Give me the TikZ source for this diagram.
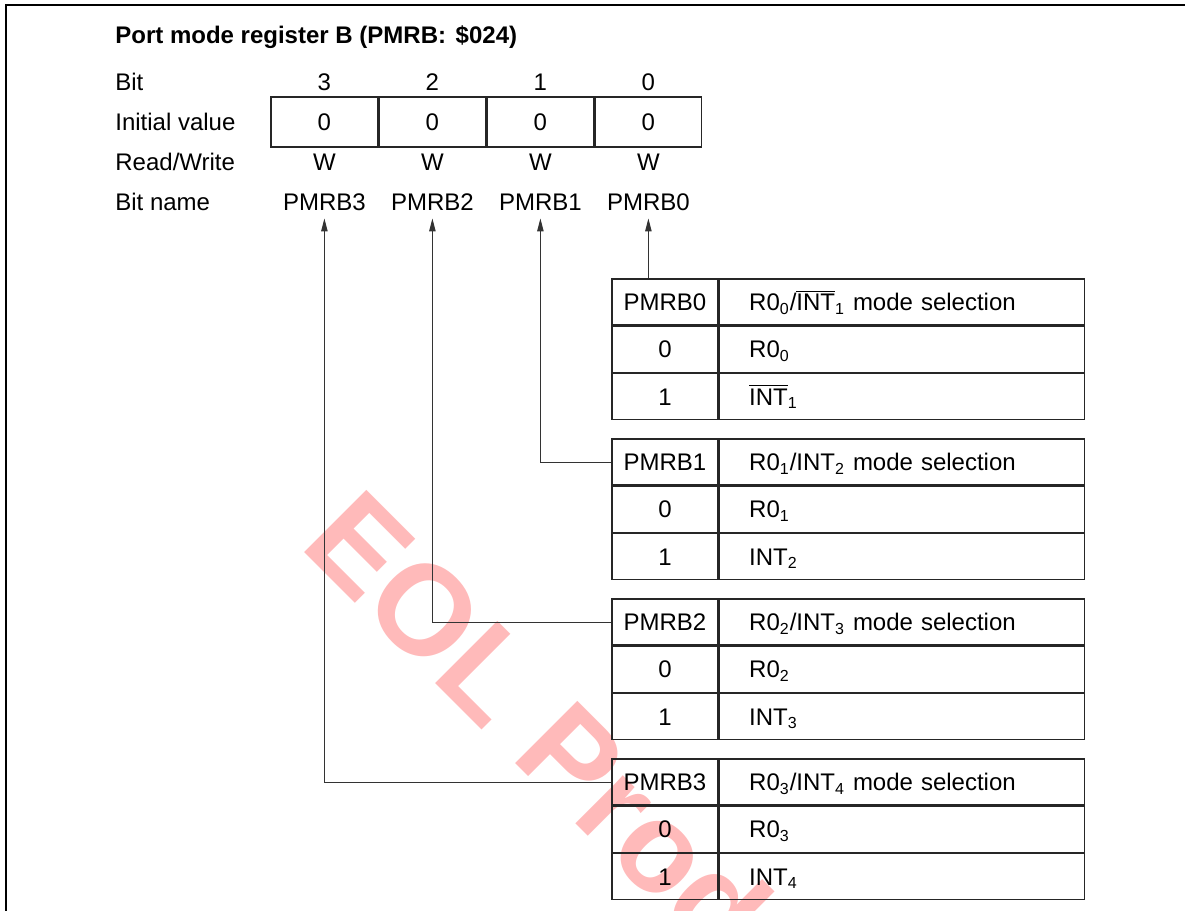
\documentclass[tikz,border=0pt]{standalone}
\usepackage{fontspec}
\setmainfont{Liberation Sans}
\usetikzlibrary{arrows.meta,positioning}
\newcommand{\barsig}[1]{$\overline{\mbox{#1}}$}

\begin{document}
\begin{tikzpicture}[x=0.5pt,y=-0.5pt,>={Triangle[length=6.5pt,width=3.2pt]},
font=\fontsize{12}{14}\selectfont]
\tikzstyle{txt}=[inner sep=0pt,text height=8.6pt,text depth=0pt]
\tikzstyle{lbl}=[txt,anchor=west]
\tikzstyle{bitname}=[txt,inner ysep=3.7pt]
\tikzstyle{regcell}=[txt,draw=black!85,line width=0.6pt,minimum width=53.4pt,minimum height=25pt]
\tikzstyle{keycell}=[txt,draw=black!85,line width=0.6pt,minimum width=53pt,minimum height=23pt]
\tikzstyle{selcell}=[keycell,minimum width=0pt,text width=152.5pt,inner xsep=15pt,align=left]
\tikzstyle{conn}=[draw=black!80,line width=0.5pt,->]

\useasboundingbox (0,0) rectangle (1185,911);

% watermark
\begin{scope}
\clip (0,0) rectangle (1185,911);
\node[anchor=base west,rotate=-45,inner sep=0pt,text=red!27,
font=\fontsize{64}{64}\selectfont\bfseries] (eol) at (298,546) {EOL Product};
\end{scope}

\draw[line width=1pt] (6,911) -- (6,5) -- (1185,5);

\node[anchor=base west,inner sep=0pt,font=\fontsize{12}{14}\selectfont\bfseries]
(title) at (115,43) {Port mode register B (PMRB:\ \hspace{1.5pt}\$024)};

\node[lbl] (bit)  at (115,82)  {Bit};
\node[lbl] (init) at (115,122) {Initial value};
\node[lbl] (rw)   at (115,162) {Read/Write};
\node[lbl] (name) at (115,202) {Bit name};

\node[regcell] (r3) at (324.4,122) {0};
\node[regcell] (r2) [right=0pt of r3] {0};
\node[regcell] (r1) [right=0pt of r2] {0};
\node[regcell] (r0) [right=0pt of r1] {0};

\node[txt] (b3) at (r3 |- bit) {3};
\node[txt] (b2) at (r2 |- bit) {2};
\node[txt] (b1) at (r1 |- bit) {1};
\node[txt] (b0) at (r0 |- bit) {0};

\node[txt] (w3) at (r3 |- rw) {W};
\node[txt] (w2) at (r2 |- rw) {W};
\node[txt] (w1) at (r1 |- rw) {W};
\node[txt] (w0) at (r0 |- rw) {W};

\node[bitname] (n3) at (r3 |- name) {PMRB3};
\node[bitname] (n2) at (r2 |- name) {PMRB2};
\node[bitname] (n1) at (r1 |- name) {PMRB1};
\node[bitname] (n0) at (r0 |- name) {PMRB0};

% PMRB0
\node[keycell] (k0) at (665,302) {PMRB0};
\node[selcell] (s0) [right=0pt of k0] {R0\textsubscript{0}/\barsig{INT}\textsubscript{1} mode selection};
\node[keycell] (k0a) [below=0pt of k0] {0};
\node[selcell] (s0a) [right=0pt of k0a] {R0\textsubscript{0}};
\node[keycell] (k0b) [below=0pt of k0a] {1};
\node[selcell] (s0b) [right=0pt of k0b] {\barsig{INT}\textsubscript{1}};

% PMRB1
\node[keycell] (k1) at (665,462) {PMRB1};
\node[selcell] (s1) [right=0pt of k1] {R0\textsubscript{1}/INT\textsubscript{2} mode selection};
\node[keycell] (k1a) [below=0pt of k1] {0};
\node[selcell] (s1a) [right=0pt of k1a] {R0\textsubscript{1}};
\node[keycell] (k1b) [below=0pt of k1a] {1};
\node[selcell] (s1b) [right=0pt of k1b] {INT\textsubscript{2}};

% PMRB2
\node[keycell] (k2) at (665,622) {PMRB2};
\node[selcell] (s2) [right=0pt of k2] {R0\textsubscript{2}/INT\textsubscript{3} mode selection};
\node[keycell] (k2a) [below=0pt of k2] {0};
\node[selcell] (s2a) [right=0pt of k2a] {R0\textsubscript{2}};
\node[keycell] (k2b) [below=0pt of k2a] {1};
\node[selcell] (s2b) [right=0pt of k2b] {INT\textsubscript{3}};

% PMRB3
\node[keycell] (k3) at (665,782) {PMRB3};
\node[selcell] (s3) [right=0pt of k3] {R0\textsubscript{3}/INT\textsubscript{4} mode selection};
\node[keycell] (k3a) [below=0pt of k3] {0};
\node[selcell] (s3a) [right=0pt of k3a] {R0\textsubscript{3}};
\node[keycell] (k3b) [below=0pt of k3a] {1};
\node[selcell] (s3b) [right=0pt of k3b] {INT\textsubscript{4}};

\draw[conn] (n0 |- k0.north) -- (n0.south);
\draw[conn] (k1.west) -| (n1.south);
\draw[conn] (k2.west) -| (n2.south);
\draw[conn] (k3.west) -| (n3.south);

\end{tikzpicture}
\end{document}
